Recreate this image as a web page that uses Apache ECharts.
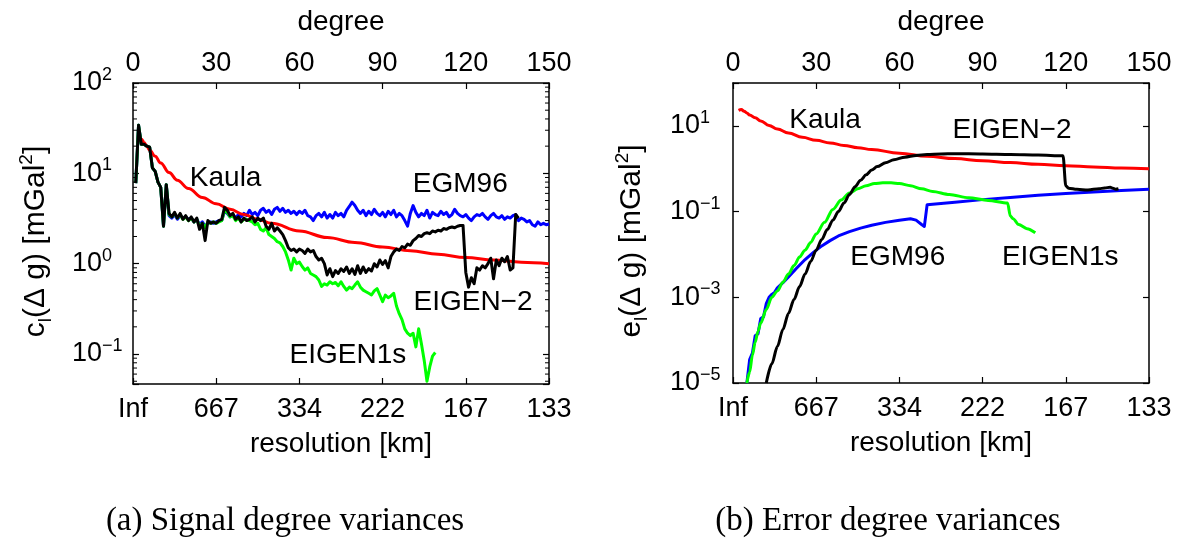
<!DOCTYPE html>
<html>
<head>
<meta charset="utf-8">
<script src="https://cdn.jsdelivr.net/npm/echarts@6/dist/echarts.min.js"></script>
<style>
  html, body { margin: 0; padding: 0; background: #fff; }
  #chart { width: 1186px; height: 542px; }
</style>
</head>
<body>
<div id="chart"></div>
<script>
// ---- tick labels ----
const degreeTicks = ['0', '30', '60', '90', '120', '150'];
const resolutionTicks = ['Inf', '667', '334', '222', '167', '133'];
const signalExponents = [-1, 0, 1, 2];
const errorExponents = [-5, -3, -1, 1];

// ---- signal degree variances [mGal^2], one value per degree ----
const signalStartDegree = 1;
const eigen2Signal = [7.8, 34, 21, 21, 20, 19.5, 11.5, 10.5, 8.0, 7.0, 2.6, 7.5, 3.6, 3.3, 3.7, 3.2, 3.6, 3.1, 3.4, 3.0,
  3.3, 2.9, 3.2, 2.4, 2.8, 1.8, 3.0, 2.8, 2.9, 2.8, 3.0, 3.1, 4.2, 3.9, 3.4, 3.6, 3.1, 3.3, 2.9, 3.2,
  3.0, 3.1, 3.3, 2.9, 3.2, 3.0, 3.2, 2.6, 2.4, 2.8, 2.3, 2.5, 2.3, 2.1, 1.8, 1.5, 1.4, 1.45, 1.35, 1.45,
  1.4, 1.3, 1.45, 1.35, 1.4, 1.2, 1.1, 1.15, 1.0, 0.75, 0.88, 0.72, 0.84, 0.78, 0.88, 0.82, 0.92, 0.78, 0.88, 0.76,
  0.95, 0.78, 0.92, 0.8, 0.88, 0.83, 1.0, 0.92, 1.1, 0.98, 1.08, 0.9, 1.2, 1.35, 1.45, 1.4, 1.55, 1.5, 1.65, 1.6,
  1.8, 1.9, 2.05, 2.0, 2.15, 2.2, 2.15, 2.3, 2.25, 2.35, 2.3, 2.45, 2.4, 2.5, 2.55, 2.5, 2.6, 2.65, 2.65, 0.8,
  0.55, 0.7, 0.6, 0.9, 0.85, 0.95, 0.9, 1.0, 1.15, 0.68, 1.1, 0.95, 1.15, 1.05, 1.2, 0.85, 0.9, 3.5, 3.2];

const egm96Signal = [7.8, 34, 21, 21, 20, 19.5, 11.5, 10.5, 8.0, 7.0, 2.6, 7.5, 3.4, 3.2, 3.5, 3.1, 3.4, 3.2, 3.3, 3.1,
  3.2, 2.9, 3.1, 2.7, 2.9, 2.6, 2.8, 2.9, 2.8, 2.9, 3.0, 3.0, 3.8, 3.6, 3.3, 3.5, 3.2, 3.5, 3.3, 3.6,
  3.4, 3.9, 3.5, 3.7, 3.4, 3.9, 4.1, 3.7, 3.9, 3.5, 4.0, 4.2, 3.8, 4.1, 3.7, 3.9, 3.6, 3.8, 3.5, 3.8,
  3.6, 3.9, 3.4, 3.3, 3.0, 3.4, 3.6, 3.3, 3.7, 3.2, 3.5, 3.2, 3.7, 3.4, 3.6, 3.3, 3.9, 4.3, 4.8, 4.4,
  3.9, 3.6, 3.9, 3.4, 3.8, 3.5, 4.0, 3.6, 3.4, 3.7, 3.3, 3.8, 3.5, 3.9, 3.3, 3.6, 3.4, 3.0, 2.6, 3.6,
  4.4, 3.7, 3.3, 3.6, 3.4, 3.9, 3.2, 3.7, 3.5, 3.4, 3.8, 3.5, 3.7, 3.3, 3.5, 4.0, 3.6, 3.4, 3.3, 3.5,
  3.2, 3.0, 3.3, 3.5, 3.4, 3.6, 3.3, 3.1, 3.4, 3.6, 3.3, 3.2, 3.4, 3.1, 3.3, 3.2, 3.4, 3.5, 3.0, 3.2,
  3.1, 2.9, 3.0, 2.7, 2.6, 2.9, 2.7, 2.8, 2.7, 2.75];

const eigen1sSignal = [7.8, 34, 21, 21, 20, 19.5, 11.5, 10.5, 8.0, 7.0, 2.6, 7.5, 3.5, 3.3, 3.6, 3.2, 3.5, 3.1, 3.3, 3.0,
  3.2, 2.9, 3.1, 2.6, 2.8, 2.5, 2.9, 2.8, 2.9, 2.8, 2.9, 3.0, 3.9, 3.7, 3.3, 3.4, 3.0, 3.2, 2.9, 3.1,
  3.1, 3.0, 2.9, 2.7, 2.8, 2.4, 2.3, 2.5, 2.1, 2.0, 1.9, 1.75, 1.7, 1.55, 1.35, 1.1, 0.85, 1.15, 1.0, 1.04,
  0.93, 0.85, 0.9, 0.78, 0.75, 0.72, 0.66, 0.56, 0.6, 0.58, 0.63, 0.6, 0.62, 0.57, 0.63, 0.56, 0.51, 0.55, 0.53, 0.58,
  0.63, 0.55, 0.51, 0.49, 0.47, 0.45, 0.5, 0.53, 0.45, 0.38, 0.45, 0.42, 0.44, 0.47, 0.34, 0.28, 0.24, 0.19, 0.17, 0.16,
  0.17, 0.12, 0.19, 0.13, 0.085, 0.05, 0.072, 0.095, 0.104];

// ---- Kaula rule of thumb [mGal^2] ----
const kaulaDeg = [2, 3, 4, 5, 6, 8, 10, 13, 16, 20, 25, 30, 35, 40, 45, 50, 60, 70, 80, 90, 100, 110, 120, 130, 140, 150];
const kaulaVal = [23, 24, 22, 20, 18, 15.5, 13, 10.2, 8.4, 6.8, 5.4, 4.6, 4.0, 3.5, 3.1, 2.8, 2.3, 1.95, 1.72, 1.53,
  1.39, 1.27, 1.17, 1.1, 1.04, 1.0];

// ---- error degree variances [mGal^2] ----
const egm96ErrDeg = [5, 6, 7, 8, 9, 10, 11, 12, 13, 14, 15, 16, 18, 20, 23, 26, 29, 32, 35, 38, 42, 46, 50, 55, 60,
  64, 66, 68, 69, 70, 80, 90, 100, 110, 120, 130, 140, 150];
const egm96ErrVal = [1e-5, 3.5e-5, 5e-5, 1.26e-4, 1.4e-4, 3.2e-4, 3.5e-4, 7.1e-4, 1.0e-3, 1.17e-3, 1.3e-3, 1.66e-3,
  2.2e-3, 3.0e-3, 4.8e-3, 7.6e-3, 0.0112, 0.0158, 0.021, 0.027, 0.034, 0.041, 0.048, 0.056, 0.063,
  0.068, 0.063, 0.05, 0.045, 0.145, 0.166, 0.19, 0.214, 0.24, 0.263, 0.288, 0.31, 0.33];

const eigen1sErrDeg = [5, 6, 7, 8, 9, 10, 12, 14, 16, 18, 20, 22, 24, 26, 28, 30, 33, 36, 39, 42, 45, 48, 51, 54, 57,
  60, 64, 68, 72, 78, 85, 92, 99, 100, 101, 103, 106, 109];
const eigen1sErrVal = [1e-5, 1.8e-5, 4.5e-5, 8.9e-5, 1.6e-4, 2.5e-4, 5.2e-4, 1.0e-3, 1.41e-3, 2.24e-3, 3.5e-3, 5.5e-3,
  8.7e-3, 0.0126, 0.019, 0.030, 0.056, 0.112, 0.186, 0.27, 0.34, 0.40, 0.45, 0.47, 0.47,
  0.45, 0.40, 0.34, 0.295, 0.25, 0.21, 0.182, 0.158, 0.079, 0.068, 0.05, 0.04, 0.032];

const eigen2ErrDeg = [12, 14, 16, 18, 20, 22, 24, 26, 28, 30, 32, 34, 36, 38, 40, 42, 44, 46, 48, 50, 52, 55, 58, 62, 66,
  70, 75, 80, 90, 100, 110, 119, 120, 121, 124, 128, 132, 134, 136, 137, 138, 139];
const eigen2ErrVal = [1e-5, 2.8e-5, 7.1e-5, 1.78e-4, 4.2e-4, 8.9e-4, 1.78e-3, 3.5e-3, 6.8e-3, 0.0126, 0.0224, 0.038,
  0.063, 0.1, 0.158, 0.25, 0.38, 0.54, 0.72, 0.93, 1.12, 1.38, 1.62, 1.86, 2.04,
  2.14, 2.2, 2.24, 2.2, 2.14, 2.09, 2.0, 0.4, 0.35, 0.33, 0.32, 0.34, 0.355, 0.37, 0.35, 0.33, 0.34];

// ---- curve annotations ----
const signalNotes = ['Kaula', 'EGM96', 'EIGEN\u22122', 'EIGEN1s'];
const signalNoteDeg = [33.4, 118, 122.6, 77.5];
const signalNoteVal = [8.9, 7.6, 0.37, 0.096];
const errorNotes = ['Kaula', 'EIGEN\u22122', 'EGM96', 'EIGEN1s'];
const errorNoteDeg = [33.2, 100.6, 59.4, 118];
const errorNoteVal = [13.8, 7.9, 0.0088, 0.0088];

// ---- axis ranges ----
const signalMin = 0.0466, signalMax = 100;
const errorMin = 1e-5, errorMax = 100;

const FONT = 'Liberation Sans';
const TICK_SIZE = 27;

function seq(start, values) {
  return values.map((v, i) => [start + i, v]);
}
function pairs(xs, ys) {
  return xs.map((x, i) => [x, ys[i]]);
}
// "10^k" label, drawn only for the listed exponents
function powLabeler(exponents) {
  return function (v) {
    const e = Math.log10(v);
    const r = Math.round(e);
    if (Math.abs(e - r) > 1e-6 || exponents.indexOf(r) < 0) return '';
    return '{b|10}{s|' + (r < 0 ? '\u2212' + (-r) : String(r)) + '}';
  };
}
const powRich = {
  b: { fontSize: TICK_SIZE, fontFamily: FONT, color: '#000', lineHeight: 34 },
  s: { fontSize: 18, fontFamily: FONT, color: '#000', lineHeight: 12, verticalAlign: 'top' }
};

function xAxis(gridIndex, position, labels, name, nameGap, margin) {
  return {
    type: 'value', gridIndex, position, min: 0, max: 150, interval: 30,
    name, nameLocation: 'middle', nameGap,
    nameTextStyle: { fontSize: 28, fontFamily: FONT, color: '#000' },
    axisLine: { show: true, onZero: false, lineStyle: { color: '#000', width: 1.5 } },
    axisTick: { show: true, inside: true, length: 6, lineStyle: { color: '#000', width: 1.2 } },
    axisLabel: {
      show: true, margin, fontSize: TICK_SIZE, fontFamily: FONT, color: '#000',
      formatter: v => labels[Math.round(v / 30)]
    },
    splitLine: { show: false }
  };
}

function yAxis(gridIndex, position, min, max, interval, exponents, margin, name, nameGap) {
  const ax = {
    type: 'log', logBase: 10, gridIndex, position, min, max,
    axisLine: { show: true, onZero: false, lineStyle: { color: '#000', width: 1.5 } },
    axisTick: { show: true, inside: true, length: 6, lineStyle: { color: '#000', width: 1.2 } },
    axisLabel: {
      show: !!exponents, margin, align: 'left',
      formatter: exponents ? powLabeler(exponents) : '', rich: powRich
    },
    splitLine: { show: false },
    minorTick: { show: false }
  };
  if (interval != null) ax.interval = interval;
  if (name) {
    ax.name = name;
    ax.nameLocation = 'middle';
    ax.nameRotate = 90;
    ax.nameGap = nameGap;
    ax.nameTextStyle = {
      padding: [0, 16, 0, 0],
      rich: {
        t: { fontSize: 30, fontFamily: FONT, color: '#000', lineHeight: 38 },
        sub: { fontSize: 19, fontFamily: FONT, color: '#000', lineHeight: 12, verticalAlign: 'bottom' },
        sup: { fontSize: 19, fontFamily: FONT, color: '#000', lineHeight: 12, verticalAlign: 'top' }
      }
    };
  }
  return ax;
}

function line(name, data, color, xi, yi, extra) {
  return Object.assign({
    name, type: 'line', data, xAxisIndex: xi, yAxisIndex: yi,
    showSymbol: false, symbol: 'none', silent: true,
    lineStyle: { color, width: 3, join: 'round' }
  }, extra || {});
}

function notes(names, degs, vals, xi, yi) {
  return {
    type: 'scatter', xAxisIndex: xi, yAxisIndex: yi, symbolSize: 0, silent: true, z: 5,
    itemStyle: { opacity: 1, color: '#000' },
    data: names.map((n, i) => ({ name: n, value: [degs[i], vals[i]] })),
    label: {
      show: true, position: 'inside', formatter: '{b}', opacity: 1,
      fontSize: 28, fontFamily: FONT, color: '#000', textBorderWidth: 0
    }
  };
}

// minor log ticks (2..9 per decade) on both vertical sides of the signal panel
const minorTicks = [];
for (let e = -2; e <= 1; e++) {
  for (let m = 2; m <= 9; m++) {
    const v = m * Math.pow(10, e);
    if (v > signalMin && v < signalMax) minorTicks.push([0, v]);
  }
}
const minorTickSeries = {
  type: 'custom', xAxisIndex: 0, yAxisIndex: 0, silent: true, clip: false, z: 4,
  data: minorTicks,
  renderItem: function (params, api) {
    const v = api.value(1);
    const p0 = api.coord([0, v]);
    const p1 = api.coord([150, v]);
    const st = { stroke: '#000', lineWidth: 1 };
    return {
      type: 'group',
      children: [
        { type: 'line', shape: { x1: p0[0], y1: p0[1], x2: p0[0] + 4, y2: p0[1] }, style: st },
        { type: 'line', shape: { x1: p1[0] - 4, y1: p1[1], x2: p1[0], y2: p1[1] }, style: st }
      ]
    };
  }
};

const BLUE = '#0000ff', GREEN = '#00ff00', RED = '#ff0000', BLACK = '#000000';

const option = {
  animation: false,
  backgroundColor: '#fff',
  grid: [
    { left: 133, top: 83, width: 416, height: 301, outerBoundsMode: 'none', containLabel: false },
    { left: 733, top: 83, width: 416, height: 300, outerBoundsMode: 'none', containLabel: false }
  ],
  xAxis: [
    xAxis(0, 'bottom', resolutionTicks, 'resolution [km]', 46, 12),
    xAxis(0, 'top', degreeTicks, 'degree', 47, 6),
    xAxis(1, 'bottom', resolutionTicks, 'resolution [km]', 46, 12),
    xAxis(1, 'top', degreeTicks, 'degree', 47, 6)
  ],
  yAxis: [
    yAxis(0, 'left', signalMin, signalMax, null, signalExponents, 61,
      '{t|c}{sub|l}{t|(\u0394 g) [mGal}{sup|2}{t|]}', 78),
    yAxis(0, 'right', signalMin, signalMax, null, null, 8),
    yAxis(1, 'left', errorMin, errorMax, 2, errorExponents, 63,
      '{t|e}{sub|l}{t|(\u0394 g) [mGal}{sup|2}{t|]}', 82),
    yAxis(1, 'right', errorMin, errorMax, 2, null, 8)
  ],
  series: [
    // signal degree variances
    line('EGM96', seq(signalStartDegree, egm96Signal), BLUE, 0, 0),
    line('EIGEN1s', seq(signalStartDegree, eigen1sSignal), GREEN, 0, 0),
    line('Kaula', pairs(kaulaDeg, kaulaVal), RED, 0, 0, { smooth: 0.4, smoothMonotone: 'x' }),
    line('EIGEN-2', seq(signalStartDegree, eigen2Signal), BLACK, 0, 0),
    minorTickSeries,
    notes(signalNotes, signalNoteDeg, signalNoteVal, 0, 0),
    // error degree variances
    line('EGM96', pairs(egm96ErrDeg, egm96ErrVal), BLUE, 2, 2),
    line('EIGEN1s', pairs(eigen1sErrDeg, eigen1sErrVal), GREEN, 2, 2, { smooth: 0.3, smoothMonotone: 'x' }),
    line('Kaula', pairs(kaulaDeg, kaulaVal), RED, 2, 2, { smooth: 0.4, smoothMonotone: 'x' }),
    line('EIGEN-2', pairs(eigen2ErrDeg, eigen2ErrVal), BLACK, 2, 2, { smooth: 0.3, smoothMonotone: 'x' }),
    notes(errorNotes, errorNoteDeg, errorNoteVal, 2, 2)
  ],
  graphic: [
    {
      type: 'text', x: 285, y: 521, silent: true,
      style: {
        text: '(a) Signal degree variances', font: '33px "Liberation Serif"', fill: '#000',
        align: 'center', verticalAlign: 'middle', textAlign: 'center', textVerticalAlign: 'middle'
      }
    },
    {
      type: 'text', x: 888, y: 521, silent: true,
      style: {
        text: '(b) Error degree variances', font: '33px "Liberation Serif"', fill: '#000',
        align: 'center', verticalAlign: 'middle', textAlign: 'center', textVerticalAlign: 'middle'
      }
    }
  ]
};

const chart = echarts.init(document.getElementById('chart'), null, { renderer: 'canvas' });
chart.setOption(option);
</script>
</body>
</html>
